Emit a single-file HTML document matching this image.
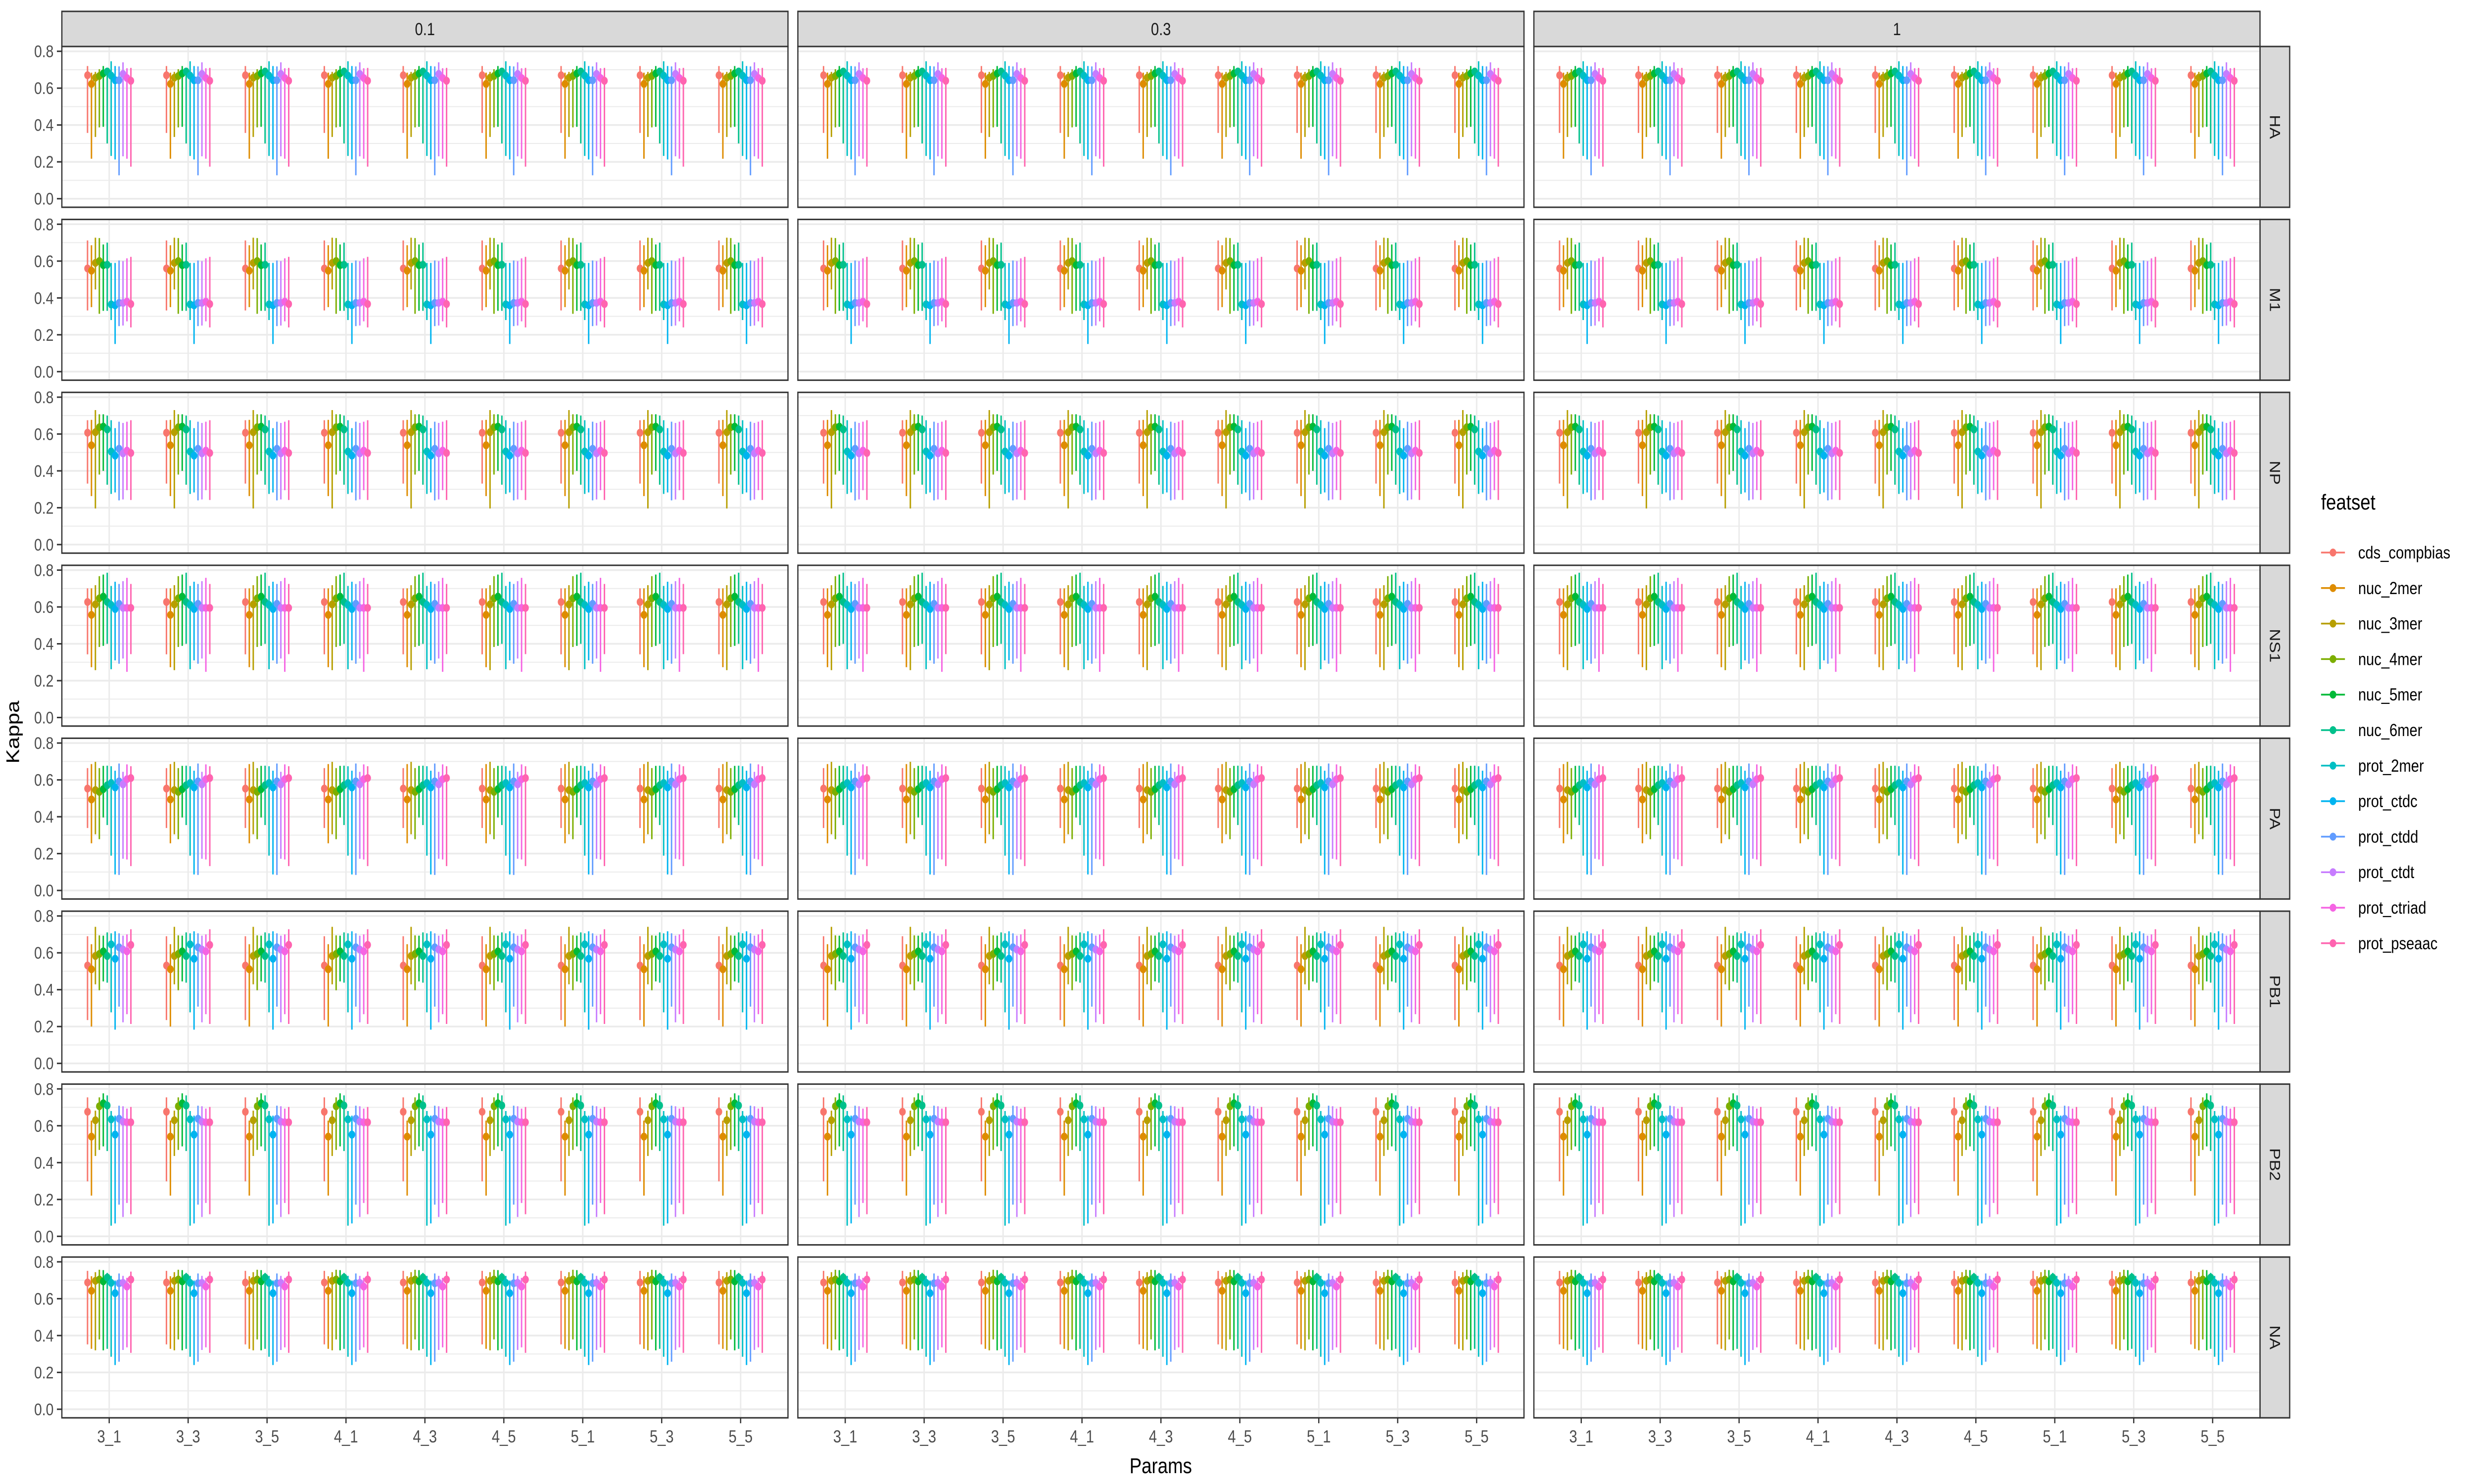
<!DOCTYPE html>
<html><head><meta charset="utf-8"><style>
html,body{margin:0;padding:0;background:#fff;overflow:hidden;width:100%;height:100%}
svg{display:block;width:100vw;height:100vh}
text{font-family:"Liberation Sans",Arial,sans-serif}
</style></head><body>
<svg id="chart" viewBox="0 0 6000 3000" preserveAspectRatio="none" xmlns="http://www.w3.org/2000/svg">
<rect x="0" y="0" width="6000" height="3000" fill="#fff"/>
<g id="panels"></g>
<text x="0" y="0" transform="translate(46,1480) rotate(-90)" text-anchor="middle" font-size="44" fill="#000">Kappa</text>
<text x="2815" y="2978" text-anchor="middle" font-size="44" fill="#000">Params</text>
<g id="legend"></g>
</svg>
<script>
const facets = ["0.1","0.3","1"];
const proteins = ["HA","M1","NP","NS1","PA","PB1","PB2","NA"];
const params = ["3_1","3_3","3_5","4_1","4_3","4_5","5_1","5_3","5_5"];
const featsets = ["cds_compbias","nuc_2mer","nuc_3mer","nuc_4mer","nuc_5mer","nuc_6mer","prot_2mer","prot_ctdc","prot_ctdd","prot_ctdt","prot_ctriad","prot_pseaac"];
const yTicks = [0.0,0.2,0.4,0.6,0.8];
const yTickLabels = ["0.0","0.2","0.4","0.6","0.8"];
const meanHA = [0.67,0.623,0.657,0.666,0.68,0.69,0.668,0.643,0.643,0.677,0.655,0.64];
const loHA   = [0.357,0.217,0.335,0.387,0.39,0.30,0.232,0.213,0.127,0.23,0.217,0.174];
const hiHA   = [0.72,0.684,0.688,0.703,0.72,0.71,0.746,0.72,0.718,0.74,0.708,0.71];
const meanM1 = [0.56,0.548,0.59,0.6,0.578,0.58,0.365,0.36,0.373,0.373,0.38,0.367];
const loM1   = [0.332,0.35,0.446,0.314,0.33,0.33,0.28,0.15,0.247,0.25,0.273,0.24];
const hiM1   = [0.712,0.686,0.727,0.725,0.69,0.70,0.59,0.59,0.603,0.6,0.615,0.623];
const meanNP = [0.607,0.539,0.61,0.637,0.64,0.625,0.505,0.483,0.52,0.495,0.51,0.497];
const loNP   = [0.331,0.263,0.196,0.38,0.4,0.325,0.275,0.283,0.24,0.245,0.295,0.242];
const hiNP   = [0.675,0.677,0.73,0.707,0.707,0.7,0.675,0.632,0.667,0.66,0.667,0.675];
const meanNS1 = [0.627,0.557,0.614,0.647,0.656,0.627,0.611,0.589,0.617,0.595,0.595,0.595];
const loNS1   = [0.343,0.273,0.257,0.383,0.389,0.40,0.262,0.31,0.292,0.32,0.248,0.344];
const hiNS1   = [0.701,0.701,0.718,0.767,0.776,0.786,0.714,0.737,0.725,0.74,0.758,0.725];
const meanPA = [0.553,0.494,0.545,0.535,0.55,0.571,0.583,0.559,0.592,0.576,0.604,0.61];
const loPA   = [0.339,0.256,0.305,0.278,0.396,0.355,0.189,0.087,0.084,0.172,0.168,0.132];
const hiPA   = [0.664,0.686,0.698,0.664,0.676,0.677,0.674,0.65,0.689,0.644,0.684,0.674];
const meanPB1 = [0.531,0.511,0.583,0.594,0.608,0.583,0.646,0.568,0.63,0.618,0.608,0.643];
const loPB1   = [0.235,0.2,0.429,0.397,0.445,0.438,0.277,0.183,0.308,0.223,0.267,0.214];
const hiPB1   = [0.69,0.647,0.741,0.695,0.693,0.711,0.706,0.717,0.706,0.693,0.7,0.728];
const meanPB2 = [0.676,0.541,0.63,0.706,0.722,0.71,0.635,0.552,0.638,0.622,0.619,0.619];
const loPB2   = [0.298,0.221,0.436,0.469,0.488,0.463,0.058,0.07,0.172,0.105,0.181,0.12];
const hiPB2   = [0.754,0.628,0.682,0.754,0.776,0.765,0.68,0.655,0.709,0.706,0.693,0.702];
const meanNA = [0.688,0.643,0.697,0.704,0.694,0.715,0.686,0.63,0.684,0.686,0.666,0.704];
const loNA   = [0.352,0.328,0.32,0.379,0.32,0.328,0.285,0.24,0.258,0.322,0.336,0.306];
const hiNA   = [0.751,0.722,0.744,0.757,0.755,0.74,0.724,0.698,0.737,0.724,0.713,0.747];

const meanRows = [meanHA,meanM1,meanNP,meanNS1,meanPA,meanPB1,meanPB2,meanNA];
const loRows = [loHA,loM1,loNP,loNS1,loPA,loPB1,loPB2,loNA];
const hiRows = [hiHA,hiM1,hiNP,hiNS1,hiPA,hiPB1,hiPB2,hiNA];
const colors = ["#F8766D","#DE8C00","#B79F00","#7CAE00","#00BA38","#00C08B","#00BFC4","#00B4F0","#619CFF","#C77CFF","#F564E3","#FF64B0"];

const NS="http://www.w3.org/2000/svg";
function mk(tag, attrs, parent){const e=document.createElementNS(NS,tag);for(const k in attrs)e.setAttribute(k,attrs[k]);if(parent)parent.appendChild(e);return e;}
const panelW=1761, panelH=325, left0=150, gapX=24, top0=94, pitchY=349.6;
const unitX = panelW/(params.length-1+1.2);
function xScale(col,i){return left0+col*(panelW+gapX)+(i+0.6)*unitX;}
function yScale(row,v){return top0+row*pitchY+9.7+(0.8-v)*372.5;}
const dodge=9.56;
const root=document.getElementById('panels');

for(let c=0;c<facets.length;c++){
  const px=left0+c*(panelW+gapX);
  const st=mk('rect',{x:px,y:23,width:panelW,height:71,fill:'#D9D9D9',stroke:'#333',"stroke-width":3},root);
  
  
  const stt=mk('text',{x:px+panelW/2,y:71,"text-anchor":"middle","font-size":35,fill:'#1A1A1A'},root);
  stt.textContent=facets[c];
  
  
}
for(let r=0;r<proteins.length;r++){
  const py=top0+r*pitchY;
  const rs=mk('rect',{x:5481,y:py,width:72,height:panelH,fill:'#D9D9D9',stroke:'#333',"stroke-width":3},root);
  
  
  const rt=mk('text',{x:0,y:0,transform:`translate(${5505},${py+panelH/2}) rotate(90)`,"text-anchor":"middle","font-size":35,fill:'#1A1A1A'},root);
  rt.textContent=proteins[r];
  
  
  for(let t=0;t<yTicks.length;t++){
    const yy=yScale(r,yTicks[t]);
    mk('line',{x1:138,x2:150,y1:yy,y2:yy,stroke:'#333',"stroke-width":3},root);
    const tl=mk('text',{x:130,y:yy+12,"text-anchor":"end","font-size":34,fill:'#4D4D4D'},root);
    tl.textContent=yTickLabels[t];
    
    
  }
  for(let c=0;c<facets.length;c++){
    const px=left0+c*(panelW+gapX);
    const g=mk('g',{},root);
    
    
    mk('rect',{x:px,y:py,width:panelW,height:panelH,fill:'#fff'},g);
    for(let t=0;t<yTicks.length-1;t++){
      const yy=yScale(r,(yTicks[t]+yTicks[t+1])/2);
      mk('line',{x1:px,x2:px+panelW,y1:yy,y2:yy,stroke:'#EBEBEB',"stroke-width":2},g);
    }
    for(let t=0;t<yTicks.length;t++){
      const yy=yScale(r,yTicks[t]);
      mk('line',{x1:px,x2:px+panelW,y1:yy,y2:yy,stroke:'#EBEBEB',"stroke-width":3.5},g);
    }
    for(let i=0;i<params.length;i++){
      const xx=xScale(c,i);
      mk('line',{x1:xx,x2:xx,y1:py,y2:py+panelH,stroke:'#EBEBEB',"stroke-width":3.5},g);
    }
    for(let i=0;i<params.length;i++){
      const cx=xScale(c,i);
      for(let f=0;f<featsets.length;f++){
        const x=cx+(f-5.5)*dodge;
        const ln=mk('line',{x1:x,x2:x,y1:yScale(r,loRows[r][f]),y2:yScale(r,hiRows[r][f]),stroke:colors[f],"stroke-width":3.5},g);
        
        
      }
      for(let f=0;f<featsets.length;f++){
        const x=cx+(f-5.5)*dodge;
        const pt=mk('circle',{cx:x,cy:yScale(r,meanRows[r][f]),r:8,fill:colors[f]},g);
        
        
      }
    }
    mk('rect',{x:px,y:py,width:panelW,height:panelH,fill:'none',stroke:'#333',"stroke-width":3},g);
  }
}
const lastBottom=top0+7*pitchY+panelH;
for(let c=0;c<facets.length;c++){
  for(let i=0;i<params.length;i++){
    const xx=xScale(c,i);
    mk('line',{x1:xx,x2:xx,y1:lastBottom,y2:lastBottom+11,stroke:'#333',"stroke-width":3},root);
    const xl=mk('text',{x:xx,y:lastBottom+50,"text-anchor":"middle","font-size":35,fill:'#4D4D4D'},root);
    xl.textContent=params[i];
    
    
  }
}
const lg=document.getElementById('legend');
const lt=mk('text',{x:5629,y:1030,"font-size":44,fill:'#000'},lg);
lt.textContent='featset';


for(let f=0;f<featsets.length;f++){
  const yy=1117+f*71.8;
  const e=mk('g',{},lg);
  
  
  mk('line',{x1:5629,x2:5687,y1:yy,y2:yy,stroke:colors[f],"stroke-width":3.5},e);
  mk('circle',{cx:5658,cy:yy,r:8,fill:colors[f]},e);
  const tx=mk('text',{x:5719,y:yy+12,"font-size":35,fill:'#000'},e);
  tx.textContent=featsets[f];
}
</script>
</body></html>
